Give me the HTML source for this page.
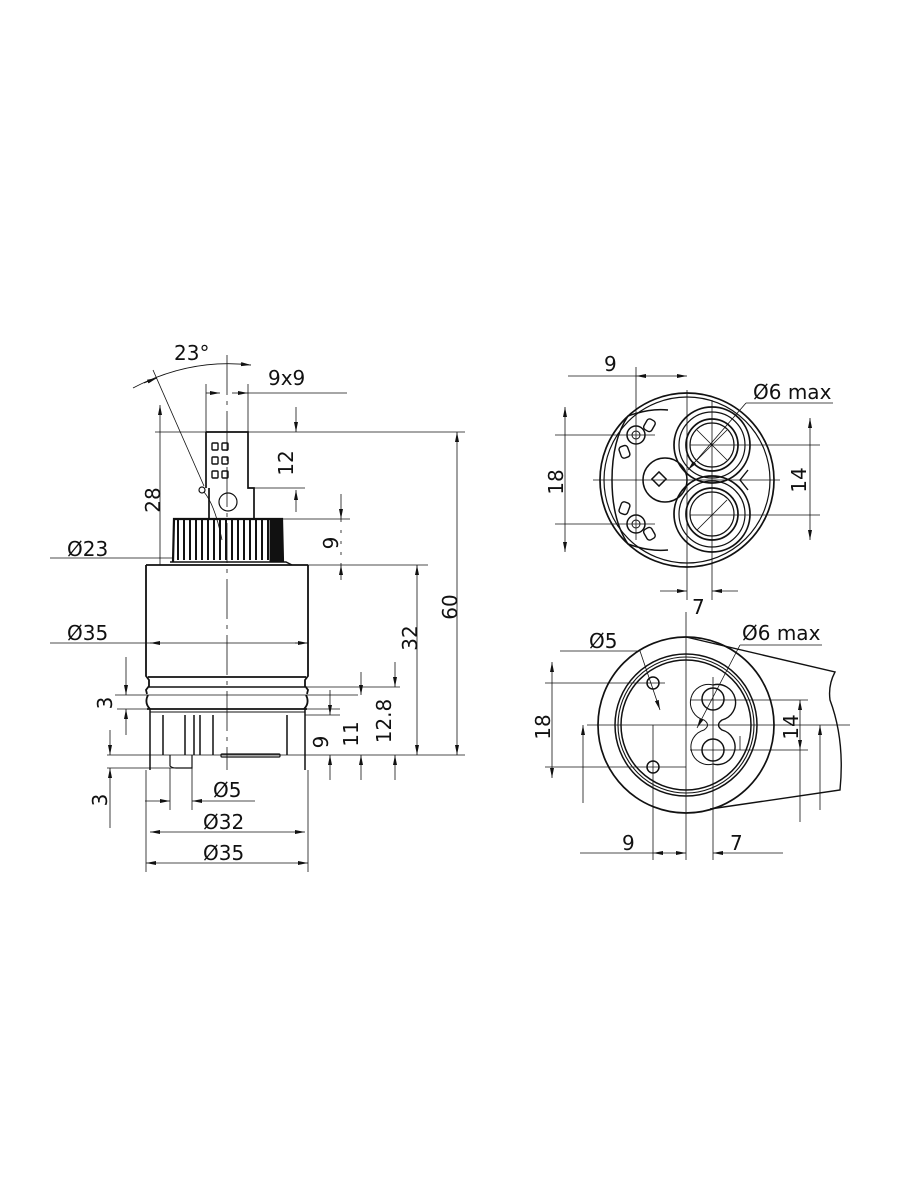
<!DOCTYPE html>
<html><head><meta charset="utf-8"><style>
html,body{margin:0;padding:0;background:#fff;}
svg{display:block}
text{font-family:"DejaVu Sans","Liberation Sans",sans-serif;font-size:20px;fill:#111}
</style></head><body>
<svg width="900" height="1200" viewBox="0 0 900 1200" xmlns="http://www.w3.org/2000/svg">
<defs>
<marker id="a" viewBox="0 0 10 6" refX="10" refY="3" markerWidth="10" markerHeight="6" orient="auto-start-reverse" markerUnits="userSpaceOnUse"><path d="M0,1 L10,3 L0,5z" fill="#111"/></marker>
</defs>
<g stroke="#111" fill="none" stroke-width="1">
<!-- LEFT VIEW -->
<line x1="227" y1="355" x2="227" y2="770" stroke-dasharray="40,6,4,6" stroke-width="0.8"/>
<path d="M206,432 L206,488 M206,432 L248,432 L248,488 L254,488 L254,519 M209,488 L209,519" stroke-width="1.7"/>
<g stroke-width="1.4">
<rect x="212" y="443" width="6" height="7" rx="1"/><rect x="222" y="443" width="6" height="7" rx="1"/>
<rect x="212" y="457" width="6" height="7" rx="1"/><rect x="222" y="457" width="6" height="7" rx="1"/>
<rect x="212" y="471" width="6" height="7" rx="1"/><rect x="222" y="471" width="6" height="7" rx="1"/>
</g>
<circle cx="228" cy="502" r="9" stroke-width="1.2"/>
<path d="M173,562 L174,519 L282,519 L283,562" stroke-width="2.2"/>
<g stroke-width="2">
<line x1="178" y1="520" x2="178" y2="560"/><line x1="184" y1="520" x2="184" y2="560"/><line x1="190" y1="520" x2="190" y2="560"/><line x1="196" y1="520" x2="196" y2="560"/><line x1="202" y1="520" x2="202" y2="560"/><line x1="208" y1="520" x2="208" y2="560"/><line x1="214" y1="520" x2="214" y2="560"/><line x1="220" y1="520" x2="220" y2="560"/><line x1="226" y1="520" x2="226" y2="560"/><line x1="232" y1="520" x2="232" y2="560"/><line x1="238" y1="520" x2="238" y2="560"/><line x1="244" y1="520" x2="244" y2="560"/><line x1="250" y1="520" x2="250" y2="560"/><line x1="256" y1="520" x2="256" y2="560"/><line x1="262" y1="520" x2="262" y2="560"/><line x1="268" y1="520" x2="268" y2="560"/>
</g>
<rect x="270" y="520" width="12" height="41" fill="#111"/>
<path d="M170,562 L286,562 L292,565" stroke-width="1.4"/>
<path d="M146,565 L146,676 L149,680 L149,686 L146,690 L147,694 M308,565 L308,676 L305,680 L305,686 L308,690 L307,694" stroke-width="1.8"/>
<line x1="146" y1="565" x2="308" y2="565" stroke-width="1.8"/>
<line x1="148" y1="677" x2="306" y2="677" stroke-width="1.8"/>
<line x1="149" y1="687" x2="305" y2="687" stroke-width="1.4"/>
<path d="M148,695 Q144,703 150,709 M306,695 Q310,703 304,709" stroke-width="1.8"/>
<line x1="147" y1="709" x2="307" y2="709" stroke-width="1.8"/>
<line x1="150" y1="712" x2="305" y2="712"/>
<path d="M150,709 L150,770 M305,709 L305,770" stroke-width="1.5"/>
<path d="M163,715 L163,755 M185,715 L185,755 M194,715 L194,755 M200,715 L200,755 M213,715 L213,755 M287,715 L287,755" stroke-width="1.5"/>
<path d="M170,755 L170,766 Q172,768 176,768 L192,768 L192,755" stroke-width="1.2"/>
<rect x="221" y="754" width="59" height="3" rx="1" stroke-width="1.2"/>
<line x1="155" y1="432" x2="465" y2="432" stroke-width="0.8"/>
<line x1="300" y1="565" x2="428" y2="565" stroke-width="0.8"/>
<line x1="107" y1="755" x2="465" y2="755" stroke-width="0.8"/>
<line x1="160" y1="405" x2="160" y2="565" marker-start="url(#a)" stroke-width="0.8"/>
<line x1="457" y1="432" x2="457" y2="755" marker-start="url(#a)" marker-end="url(#a)" stroke-width="0.8"/>
<line x1="417" y1="565" x2="417" y2="755" marker-start="url(#a)" marker-end="url(#a)" stroke-width="0.8"/>
<line x1="296" y1="407" x2="296" y2="432" marker-end="url(#a)" stroke-width="0.8"/>
<line x1="296" y1="490" x2="296" y2="512" marker-start="url(#a)" stroke-width="0.8"/>
<line x1="254" y1="488" x2="305" y2="488" stroke-width="0.8"/>
<line x1="282" y1="519" x2="350" y2="519" stroke-width="0.8"/>
<line x1="341" y1="494" x2="341" y2="519" marker-end="url(#a)" stroke-width="0.8"/>
<line x1="341" y1="565" x2="341" y2="580" marker-start="url(#a)" stroke-width="0.8"/>
<line x1="341" y1="519" x2="341" y2="565" stroke-width="0.8" stroke-dasharray="3,8"/>
<line x1="50" y1="558" x2="173" y2="558" stroke-width="0.8"/>
<line x1="50" y1="643" x2="308" y2="643" stroke-width="0.8"/>
<line x1="150" y1="643" x2="158" y2="643" marker-start="url(#a)" stroke-width="0.8"/>
<line x1="295" y1="643" x2="308" y2="643" marker-end="url(#a)" stroke-width="0.8"/>
<line x1="206" y1="384" x2="206" y2="432" stroke-width="0.8"/>
<line x1="248" y1="384" x2="248" y2="432" stroke-width="0.8"/>
<line x1="206" y1="393" x2="220" y2="393" marker-end="url(#a)" stroke-width="0.8"/>
<line x1="232" y1="393" x2="248" y2="393" marker-end="url(#a)" stroke-width="0.8"/>
<line x1="248" y1="393" x2="347" y2="393" stroke-width="0.8"/>
<path d="M133,388 Q190,358 251,365" stroke-width="0.8"/>
<line x1="144" y1="383" x2="157" y2="378" marker-end="url(#a)" stroke-width="0.8"/>
<line x1="240" y1="364" x2="251" y2="365" marker-end="url(#a)" stroke-width="0.8"/>
<line x1="153" y1="370" x2="204" y2="486" stroke-width="0.8"/>
<circle cx="202" cy="490" r="3" stroke-width="1.2"/>
<path d="M204,492 Q215,505 222,540" stroke-width="0.8"/>
<line x1="115" y1="695" x2="358" y2="695" stroke-width="0.8"/>
<line x1="117" y1="709" x2="340" y2="709" stroke-width="0.8"/>
<line x1="270" y1="687" x2="400" y2="687" stroke-width="0.8"/>
<line x1="305" y1="715" x2="340" y2="715" stroke-width="0.8"/>
<line x1="126" y1="657" x2="126" y2="695" marker-end="url(#a)" stroke-width="0.8"/>
<line x1="126" y1="709" x2="126" y2="735" marker-start="url(#a)" stroke-width="0.8"/>
<line x1="107" y1="768" x2="192" y2="768" stroke-width="0.8"/>
<line x1="110" y1="730" x2="110" y2="755" marker-end="url(#a)" stroke-width="0.8"/>
<line x1="110" y1="768" x2="110" y2="828" marker-start="url(#a)" stroke-width="0.8"/>
<line x1="330" y1="690" x2="330" y2="715" marker-end="url(#a)" stroke-width="0.8"/>
<line x1="330" y1="755" x2="330" y2="780" marker-start="url(#a)" stroke-width="0.8"/>
<line x1="361" y1="672" x2="361" y2="695" marker-end="url(#a)" stroke-width="0.8"/>
<line x1="361" y1="755" x2="361" y2="780" marker-start="url(#a)" stroke-width="0.8"/>
<line x1="395" y1="662" x2="395" y2="687" marker-end="url(#a)" stroke-width="0.8"/>
<line x1="395" y1="755" x2="395" y2="780" marker-start="url(#a)" stroke-width="0.8"/>
<line x1="170" y1="768" x2="170" y2="810" stroke-width="0.8"/>
<line x1="192" y1="768" x2="192" y2="810" stroke-width="0.8"/>
<line x1="145" y1="801" x2="170" y2="801" marker-end="url(#a)" stroke-width="0.8"/>
<line x1="192" y1="801" x2="255" y2="801" marker-start="url(#a)" stroke-width="0.8"/>
<line x1="146" y1="770" x2="146" y2="872" stroke-width="0.8"/>
<line x1="308" y1="770" x2="308" y2="872" stroke-width="0.8"/>
<line x1="150" y1="832" x2="305" y2="832" marker-start="url(#a)" marker-end="url(#a)" stroke-width="0.8"/>
<line x1="146" y1="863" x2="308" y2="863" marker-start="url(#a)" marker-end="url(#a)" stroke-width="0.8"/>

<!-- TOP RIGHT VIEW -->
<circle cx="687" cy="480" r="87" stroke-width="1.7"/>
<circle cx="687" cy="480" r="83" stroke-width="1.2"/>
<path d="M668,410 Q650,408 628,416 Q612,440 612,480 Q612,520 628,544 Q650,552 668,550" stroke-width="1.5"/>
<circle cx="712" cy="445" r="38" stroke-width="1.7"/>
<circle cx="712" cy="445" r="33" stroke-width="1.2"/>
<circle cx="712" cy="445" r="26" stroke-width="1.7"/>
<circle cx="712" cy="445" r="22" stroke-width="1.2"/>
<circle cx="712" cy="514" r="38" stroke-width="1.7"/>
<circle cx="712" cy="514" r="33" stroke-width="1.2"/>
<circle cx="712" cy="514" r="26" stroke-width="1.7"/>
<circle cx="712" cy="514" r="22" stroke-width="1.2"/>
<path d="M697,430 L727,460 M697,460 L727,430 M697,530 L727,500" stroke-width="0.8"/>
<path d="M748,470 L740,480 L748,490" stroke-width="1.4"/>
<circle cx="665" cy="480" r="22" stroke-width="1.5"/>
<rect x="654" y="474" width="10" height="10" transform="rotate(45 659 479)" stroke-width="1.5"/>
<circle cx="636" cy="435" r="9" stroke-width="1.5"/><circle cx="636" cy="435" r="4"/>
<circle cx="636" cy="524" r="9" stroke-width="1.5"/><circle cx="636" cy="524" r="4"/>
<rect x="645" y="419" width="9" height="12" rx="3" transform="rotate(30 649 425)" stroke-width="1.4"/>
<rect x="620" y="446" width="9" height="12" rx="3" transform="rotate(-20 624 452)" stroke-width="1.4"/>
<rect x="620" y="502" width="9" height="12" rx="3" transform="rotate(20 624 508)" stroke-width="1.4"/>
<rect x="645" y="528" width="9" height="12" rx="3" transform="rotate(-30 649 534)" stroke-width="1.4"/>
<line x1="593" y1="480" x2="780" y2="480" stroke-width="0.8"/>
<line x1="687" y1="390" x2="687" y2="600" stroke-width="0.8"/>
<line x1="712" y1="400" x2="712" y2="600" stroke-width="0.8"/>
<line x1="636" y1="367" x2="636" y2="540" stroke-width="0.8"/>
<line x1="568" y1="376" x2="636" y2="376" stroke-width="0.8"/>
<line x1="636" y1="376" x2="687" y2="376" marker-start="url(#a)" marker-end="url(#a)" stroke-width="0.8"/>
<line x1="555" y1="435" x2="655" y2="435" stroke-width="0.8"/>
<line x1="555" y1="524" x2="655" y2="524" stroke-width="0.8"/>
<line x1="565" y1="407" x2="565" y2="552" marker-start="url(#a)" marker-end="url(#a)" stroke-width="0.8"/>
<line x1="690" y1="445" x2="820" y2="445" stroke-width="0.8"/>
<line x1="690" y1="515" x2="820" y2="515" stroke-width="0.8"/>
<line x1="810" y1="418" x2="810" y2="540" marker-start="url(#a)" marker-end="url(#a)" stroke-width="0.8"/>
<line x1="660" y1="591" x2="687" y2="591" marker-end="url(#a)" stroke-width="0.8"/>
<line x1="712" y1="591" x2="738" y2="591" marker-start="url(#a)" stroke-width="0.8"/>
<line x1="688" y1="470" x2="746" y2="403" marker-start="url(#a)" stroke-width="0.8"/>
<line x1="746" y1="403" x2="833" y2="403" stroke-width="0.8"/>

<!-- BOTTOM RIGHT VIEW -->
<path d="M686,637 L835,672 Q828,685 830,700 Q845,740 840,790 L710,809" stroke-width="1.4"/>
<circle cx="686" cy="725" r="88" stroke-width="1.7"/>
<circle cx="686" cy="725" r="71" stroke-width="1.5"/>
<circle cx="686" cy="725" r="68" stroke-width="1.1"/>
<circle cx="686" cy="725" r="65" stroke-width="1.5"/>
<circle cx="653" cy="683" r="6" stroke-width="1.5"/>
<circle cx="653" cy="767" r="6" stroke-width="1.5"/>
<circle cx="713" cy="699" r="11" stroke-width="1.5"/>
<circle cx="713" cy="750" r="11" stroke-width="1.5"/>
<path d="M713,685 A14,14 0 0 1 722,720 Q715,725 722,730 A14,14 0 0 1 713,764" stroke-width="1.4"/>
<path d="M713,685 A14,14 0 0 0 704,720 Q711,725 704,730 A14,14 0 0 0 713,764" stroke-width="1"/>
<line x1="587" y1="725" x2="850" y2="725" stroke-width="0.8"/>
<line x1="686" y1="612" x2="686" y2="860" stroke-width="0.8"/>
<line x1="653" y1="725" x2="653" y2="860" stroke-width="0.8"/>
<line x1="713" y1="677" x2="713" y2="860" stroke-width="0.8"/>
<line x1="545" y1="683" x2="665" y2="683" stroke-width="0.8"/>
<line x1="545" y1="767" x2="686" y2="767" stroke-width="0.8"/>
<line x1="552" y1="662" x2="552" y2="778" marker-start="url(#a)" marker-end="url(#a)" stroke-width="0.8"/>
<line x1="583" y1="725" x2="583" y2="803" marker-start="url(#a)" stroke-width="0.8"/>
<line x1="690" y1="700" x2="808" y2="700" stroke-width="0.8"/>
<line x1="690" y1="750" x2="808" y2="750" stroke-width="0.8"/>
<line x1="800" y1="700" x2="800" y2="750" marker-start="url(#a)" marker-end="url(#a)" stroke-width="0.8"/>
<line x1="800" y1="750" x2="800" y2="822" stroke-width="0.8"/>
<line x1="820" y1="725" x2="820" y2="810" marker-start="url(#a)" stroke-width="0.8"/>
<line x1="740" y1="736" x2="740" y2="750" stroke-width="0.8"/>
<line x1="560" y1="651" x2="640" y2="651" stroke-width="0.8"/>
<line x1="640" y1="651" x2="660" y2="710" marker-end="url(#a)" stroke-width="0.8"/>
<line x1="697" y1="728" x2="740" y2="645" marker-start="url(#a)" stroke-width="0.8"/>
<line x1="740" y1="645" x2="822" y2="645" stroke-width="0.8"/>
<line x1="580" y1="853" x2="653" y2="853" stroke-width="0.8"/>
<line x1="653" y1="853" x2="686" y2="853" marker-start="url(#a)" marker-end="url(#a)" stroke-width="0.8"/>
<line x1="713" y1="853" x2="783" y2="853" marker-start="url(#a)" stroke-width="0.8"/>
</g>
<text x="174" y="360">23°</text>
<text x="268" y="385">9x9</text>
<text x="67" y="556">Ø23</text>
<text x="67" y="640">Ø35</text>
<text x="213" y="797">Ø5</text>
<text x="203" y="829">Ø32</text>
<text x="203" y="860">Ø35</text>
<text transform="translate(160,500) rotate(-90)" text-anchor="middle">28</text>
<text transform="translate(293,463) rotate(-90)" text-anchor="middle">12</text>
<text transform="translate(338,543) rotate(-90)" text-anchor="middle">9</text>
<text transform="translate(417,638) rotate(-90)" text-anchor="middle">32</text>
<text transform="translate(457,607) rotate(-90)" text-anchor="middle">60</text>
<text transform="translate(112,703) rotate(-90)" text-anchor="middle">3</text>
<text transform="translate(107,800) rotate(-90)" text-anchor="middle">3</text>
<text transform="translate(328,742) rotate(-90)" text-anchor="middle">9</text>
<text transform="translate(358,734) rotate(-90)" text-anchor="middle">11</text>
<text transform="translate(391,721) rotate(-90)" text-anchor="middle">12.8</text>
<text x="604" y="371">9</text>
<text x="753" y="399">Ø6 max</text>
<text transform="translate(563,482) rotate(-90)" text-anchor="middle">18</text>
<text transform="translate(806,480) rotate(-90)" text-anchor="middle">14</text>
<text x="692" y="614">7</text>
<text x="589" y="648">Ø5</text>
<text x="742" y="640">Ø6 max</text>
<text transform="translate(550,727) rotate(-90)" text-anchor="middle">18</text>
<text transform="translate(798,727) rotate(-90)" text-anchor="middle">14</text>
<text x="622" y="850">9</text>
<text x="730" y="850">7</text>
</svg>
</body></html>
